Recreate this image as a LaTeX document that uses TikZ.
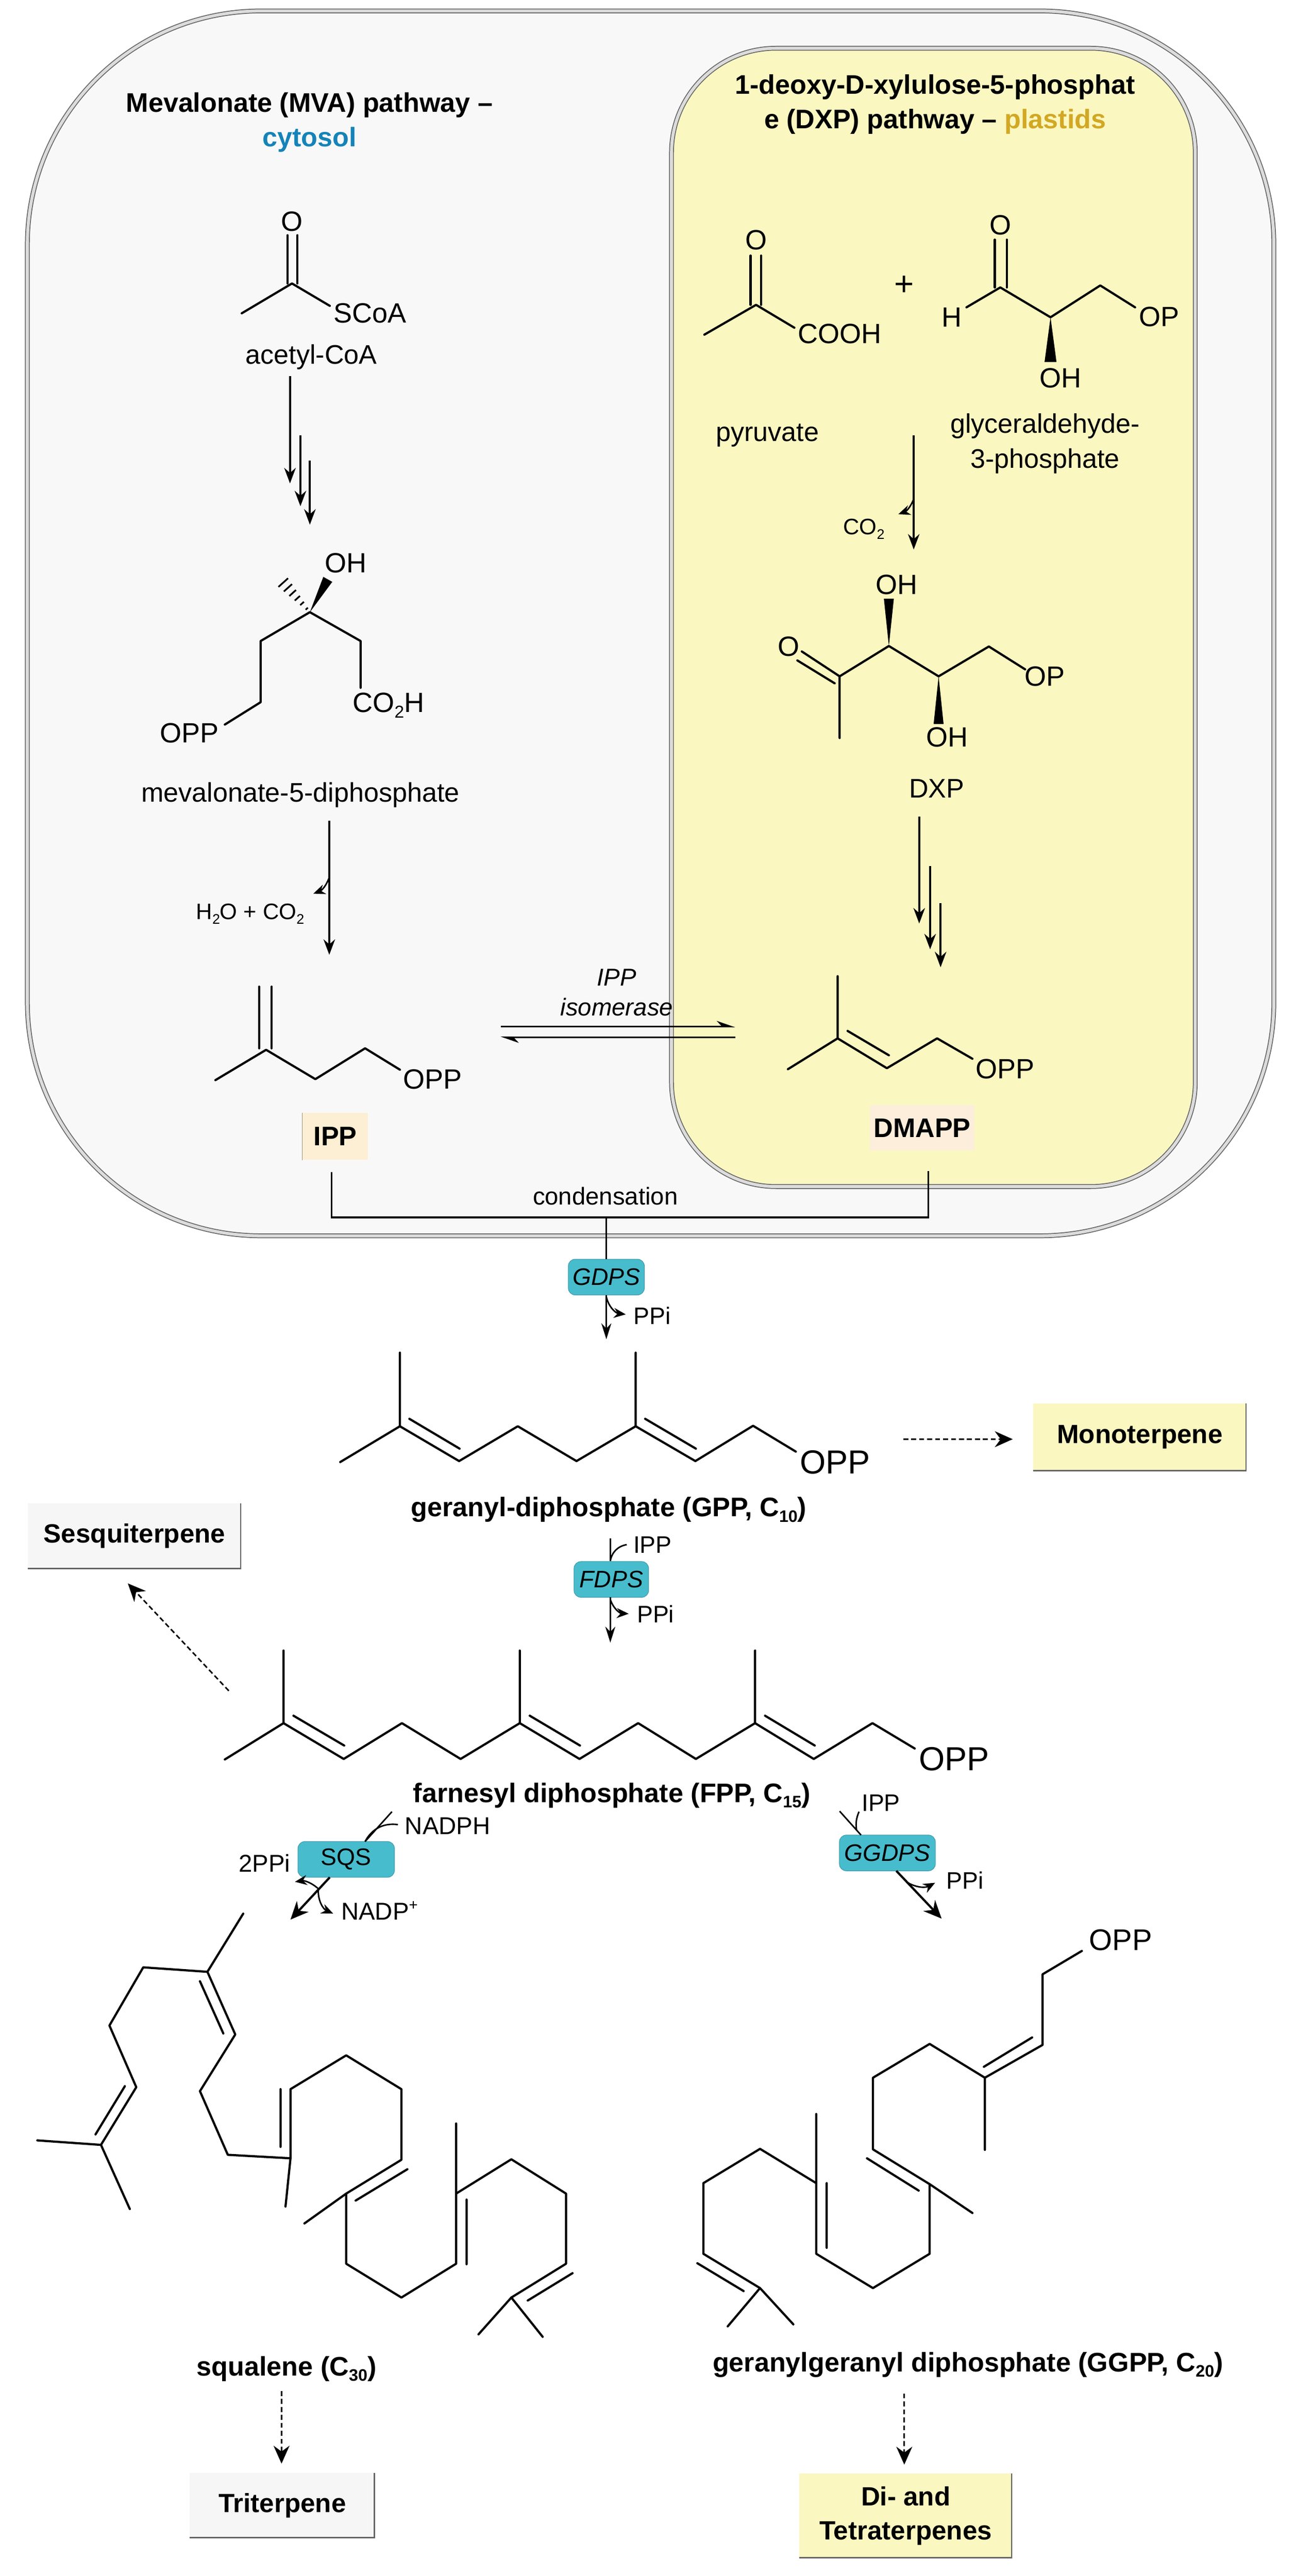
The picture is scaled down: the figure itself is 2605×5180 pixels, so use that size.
\documentclass[tikz,border=0pt]{standalone}
\usepackage{fontspec}
\setmainfont{Liberation Sans}
\usetikzlibrary{arrows.meta,calc}

\definecolor{cytofill}{HTML}{F8F8F8}
\definecolor{plastfill}{HTML}{FBF7C1}
\definecolor{edgedark}{HTML}{666666}
\definecolor{edgelight}{HTML}{DCDCDC}
\definecolor{cytoblue}{HTML}{1583B8}
\definecolor{plastgold}{HTML}{D2A823}
\definecolor{enzteal}{HTML}{47BCCD}
\definecolor{ippfill}{HTML}{FDEFD3}
\definecolor{dmappfill}{HTML}{FCEEDA}
\definecolor{greyfill}{HTML}{F6F6F6}

\newcommand{\chemsub}[1]{\raisebox{-.2em}{\scalebox{.62}{#1}}}
\newcommand{\chemsup}[1]{\raisebox{.42em}{\scalebox{.62}{#1}}}

\begin{document}
\begin{tikzpicture}[x=1pt,y=-1pt,>={Stealth[length=31pt,width=23pt]},
  bond/.style={line width=4.4pt,line cap=round,line join=round},
  wedge/.style={fill=black,draw=none},
  main arrow/.style={->,line width=4.4pt},
  wide arrow/.style={->,line width=4.4pt,>={Stealth[length=36pt,width=32pt]}},
  thin arrow/.style={->,line width=3.6pt,>={Stealth[length=32pt,width=20pt]}},
  side arrow/.style={->,line width=3pt,>={Stealth[length=24pt,width=20pt]}},
  side line/.style={line width=3pt},
  dash arrow/.style={->,line width=3pt,dash pattern=on 10pt off 6pt,>={Stealth[length=36pt,width=32pt]}},
  half left/.style={line width=3.4pt,-{Stealth[left,length=32pt,width=22pt]}},
  joint/.style={line width=3.4pt},
  pathway box/.style={draw=edgedark,line width=1.8pt,double=edgelight,double distance=6pt,inner sep=0pt},
  label/.style={font=\fontsize{54}{70}\selectfont,inner sep=0pt,align=center},
  atom/.style={font=\fontsize{56}{60}\selectfont,inner sep=0pt},
  big atom/.style={font=\fontsize{67}{70}\selectfont,inner sep=0pt},
  small label/.style={font=\fontsize{48}{60}\selectfont,inner sep=0pt,align=center},
  title/.style={font=\fontsize{54}{70}\selectfont\bfseries,inner sep=0pt,align=center},
  enzyme/.style={rectangle,rounded corners=14pt,fill=enzteal,draw=enzteal!80!black,line width=1pt,
    font=\fontsize{48}{60}\selectfont,inner sep=0pt,minimum height=72pt},
  terpene box/.style={rectangle,inner sep=0pt,font=\fontsize{53}{68}\selectfont\bfseries,align=center,
    path picture={\draw[edgedark,line width=5pt]
      (path picture bounding box.north east) -- (path picture bounding box.south east)
      -- (path picture bounding box.south west);}}]

  \useasboundingbox (0,0) rectangle (2605,5180);
  \fill[white] (0,0) rectangle (2605,5180);

  \node[pathway box,fill=cytofill,rounded corners=470pt,minimum width=2506pt,minimum height=2463pt] (cytosol) at (1308,1253.5) {};
  \node[pathway box,fill=plastfill,rounded corners=210pt,minimum width=1053pt,minimum height=2289pt] (plastid) at (1876.5,1241.5) {};

  \node[title] (mvatitle) at (622,246) {Mevalonate (MVA) pathway –\\\textcolor{cytoblue}{cytosol}};
  \node[title] (dxptitle) at (1880,210) {1-deoxy-D-xylulose-5-phosphat\\e (DXP) pathway – \textcolor{plastgold}{plastids}};

  % acetyl-CoA
  \node[atom] (aco) at (587,445) {O};
  \node[atom] (scoa) at (744,630) {SCoA};
  \node[label] (acetyl) at (626,718) {acetyl-CoA};
  \draw[bond] (486,630) -- (587,570) -- (663,615);
  \draw[bond] (578,473) -- (578,570) (598,473) -- (598,570);

  % mevalonate-5-diphosphate
  \node[atom] (mvoh) at (695,1132) {OH};
  \node[atom] (mvopp) at (381,1474) {OPP};
  \node[atom] (mvco) at (781,1418) {CO\chemsub{2}H};
  \node[label] (mvalabel) at (604,1599) {mevalonate-5-diphosphate};
  \coordinate (mvc) at (623,1231);
  \coordinate (mvme) at (560,1161);
  \draw[bond] (452,1457) -- (524,1412) -- (524,1289) -- (mvc) -- (725,1289) -- (725,1383);
  \fill[wedge] (mvc) -- (650,1160) -- (668,1170) -- cycle;
  \foreach \f/\w in {.1/3,.25/5,.4/7,.55/9,.7/11,.85/13,1/15}
    \draw[line width=3.4pt] ($(mvc)!\f!(mvme)!\w pt!90:(mvme)$) -- ($(mvc)!\f!(mvme)!\w pt!-90:(mvme)$);

  % IPP
  \node[atom] (ippopp) at (870,2170) {OPP};
  \draw[bond] (433,2172) -- (535,2111) -- (634,2170) -- (734,2108) -- (804,2151);
  \draw[bond] (521,1984) -- (521,2108) (546,1984) -- (546,2108);
  \node[rectangle,fill=ippfill,inner sep=0pt,minimum width=132pt,minimum height=95pt,
    font=\fontsize{54}{60}\selectfont\bfseries] (ipp) at (674,2285) {IPP};
  \draw[line width=1.6pt,ippfill!60!black] (ipp.north west) -- (ipp.south west);

  % pyruvate and glyceraldehyde-3-phosphate
  \node[atom] (pyo) at (1520,483) {O};
  \node[atom] (cooh) at (1688,671) {COOH};
  \node[label] (pyruvate) at (1543,875) {pyruvate};
  \draw[bond] (1416,673) -- (1520,613) -- (1597,659);
  \draw[bond] (1509,514) -- (1509,613) (1530,514) -- (1530,613);
  \node[font=\fontsize{68}{70}\selectfont,inner sep=0pt] (plus) at (1818,574) {+};
  \node[atom] (gao) at (2011,453) {O};
  \node[atom] (gah) at (1913,638) {H};
  \node[atom] (gaop) at (2330,637) {OP};
  \node[atom] (gaoh) at (2132,760) {OH};
  \node[label] (galabel) at (2101,892) {glyceraldehyde-\\3-phosphate};
  \draw[bond] (1943,618) -- (2011,578) -- (2112,638) -- (2212,574) -- (2282,618);
  \draw[bond] (2000,482) -- (2000,578) (2024,482) -- (2024,578);
  \fill[wedge] (2112,638) -- (2100,728) -- (2124,728) -- cycle;

  % DXP
  \node[atom] (dxo) at (1586,1300) {O};
  \node[atom] (dxoh) at (1803,1176) {OH};
  \node[atom] (dxop) at (2100,1360) {OP};
  \node[atom] (dxohb) at (1904,1482) {OH};
  \node[label] (dxp) at (1883,1586) {DXP};
  \draw[bond] (1688,1484) -- (1688,1360) -- (1787,1299) -- (1887,1360) -- (1988,1300) -- (2061,1346);
  \draw[bond] (1688,1360) -- (1612,1310) (1678,1374) -- (1603,1328);
  \fill[wedge] (1787,1299) -- (1777,1204) -- (1797,1204) -- cycle;
  \fill[wedge] (1887,1360) -- (1877,1456) -- (1897,1456) -- cycle;

  % DMAPP
  \node[atom] (dmopp) at (2021,2150) {OPP};
  \draw[bond] (1584,2150) -- (1684,2088) -- (1783,2148) -- (1884,2088) -- (1955,2129);
  \draw[bond] (1684,1963) -- (1684,2088) (1704,2073) -- (1787,2122);
  \node[rectangle,fill=dmappfill,inner sep=0pt,minimum width=211pt,minimum height=91pt,
    font=\fontsize{54}{60}\selectfont\bfseries] (dmapp) at (1854,2268) {DMAPP};

  % pathway arrows
  \foreach \name/\x/\ya/\yb in {aca/583/756/972,acb/604/875/1018,acc/623/926/1055,
      dxa/1848/1642/1857,dxb/1870/1741/1909,dxc/1891/1816/1945,
      mvd/662/1650/1920,gap/1837/875/1105} {
    \coordinate (\name from) at (\x,\ya);
    \coordinate (\name to) at (\x,\yb);
    \path[main arrow] (\name from) edge (\name to);
  }
  \coordinate (mvdside) at (662,1764);
  \coordinate (mvdout) at (630,1797);
  \coordinate (gapside) at (1837,1003);
  \coordinate (gapout) at (1806,1034);
  \path[side arrow] (mvdside) edge [bend left=25] (mvdout)
    (gapside) edge [bend left=25] (gapout);
  \node[small label,font=\fontsize{45}{50}\selectfont] (waterco) at (503,1838) {H\chemsub{2}O + CO\chemsub{2}};
  \node[small label,font=\fontsize{45}{50}\selectfont] (gapco) at (1737,1064) {CO\chemsub{2}};

  % isomerase
  \coordinate (isoa) at (1007,2064);
  \coordinate (isob) at (1478,2064);
  \coordinate (isoc) at (1478,2086);
  \coordinate (isod) at (1006,2086);
  \path[half left] (isoa) edge (isob) (isoc) edge (isod);
  \node[small label,font=\fontsize{49}{60}\selectfont\itshape] (isomerase) at (1240,1996) {IPP\\isomerase};

  % condensation
  \coordinate (ippfoot) at (667,2357);
  \coordinate (ippbend) at (667,2448);
  \coordinate (dmbend) at (1866,2448);
  \coordinate (dmfoot) at (1866,2355);
  \coordinate (condjoin) at (1219,2448);
  \node[small label,font=\fontsize{49}{60}\selectfont] (condensation) at (1217,2405) {condensation};
  \draw[joint] (ippfoot) -- (ippbend) -- (dmbend) -- (dmfoot);
  \node[enzyme,minimum width=153pt,font=\fontsize{48}{60}\selectfont\itshape] (gdps) at (1219,2568) {GDPS};
  \draw[joint] (condjoin) -- (gdps.north);
  \coordinate (gdpsto) at (1219,2693);
  \coordinate (gdpsside) at (1219,2608);
  \coordinate (gdpsout) at (1258,2643);
  \path[thin arrow] (gdps.south) edge (gdpsto);
  \path[side arrow] (gdpsside) edge [bend right=35] (gdpsout);
  \node[small label] (gdpsppi) at (1311,2646) {PPi};

  % GPP
  \node[big atom] (gppopp) at (1679,2940) {OPP};
  \draw[bond] (684,2940) -- (804,2868) -- (923,2938) -- (1041,2868) -- (1159,2938) -- (1278,2868) -- (1398,2938) -- (1514,2867) -- (1600,2919);
  \draw[bond] (804,2720) -- (804,2868) (823,2853) -- (924,2913)
    (1278,2720) -- (1278,2868) (1297,2853) -- (1399,2913);
  \node[title] (gpplabel) at (1224,3036) {geranyl-diphosphate (GPP, C\chemsub{10})};

  \node[terpene box,fill=plastfill,minimum width=429pt,minimum height=136pt] (mono) at (2291.5,2890) {Monoterpene};
  \coordinate (gppout) at (1816,2894);
  \coordinate (monoin) at (2036,2894);
  \path[dash arrow] (gppout) edge (monoin);

  % FDPS
  \node[enzyme,minimum width=150pt,font=\fontsize{48}{60}\selectfont\itshape] (fdps) at (1229,3176) {FDPS};
  \coordinate (fdpsin) at (1227,3093);
  \coordinate (fdpsipp) at (1260,3106);
  \coordinate (fdpstop) at (1227,3139);
  \coordinate (fdpsfoot) at (1227,3212);
  \coordinate (fdpsto) at (1227,3303);
  \coordinate (fdpsside) at (1227,3216);
  \coordinate (fdpsout) at (1264,3245);
  \draw[side line] (fdpsin) -- (fdpstop);
  \draw[side line] (fdpsipp) to [bend right=35] (fdpstop);
  \path[thin arrow] (fdpsfoot) edge (fdpsto);
  \path[side arrow] (fdpsside) edge [bend right=35] (fdpsout);
  \node[small label] (fdpsipplabel) at (1312,3106) {IPP};
  \node[small label] (fdpsppi) at (1318,3245) {PPi};

  % FPP
  \node[big atom] (fppopp) at (1918,3537) {OPP};
  \draw[bond] (452,3538) -- (570,3465) -- (691,3537) -- (808,3465) -- (926,3537) -- (1045,3465) -- (1165,3537) -- (1283,3465) -- (1399,3537) -- (1518,3465) -- (1636,3537) -- (1754,3465) -- (1839,3516);
  \draw[bond] (570,3319) -- (570,3465) (590,3450) -- (692,3510)
    (1045,3319) -- (1045,3465) (1065,3450) -- (1166,3510)
    (1518,3319) -- (1518,3465) (1538,3450) -- (1638,3510);
  \node[title] (fpplabel) at (1230,3610) {farnesyl diphosphate (FPP, C\chemsub{15})};

  \node[terpene box,fill=greyfill,minimum width=429pt,minimum height=132pt] (sesqui) at (270.5,3089) {Sesquiterpene};
  \coordinate (fppout) at (460,3400);
  \coordinate (sesquiin) at (257,3184);
  \path[dash arrow] (fppout) edge (sesquiin);

  % SQS
  \node[enzyme,minimum width=194pt] (sqs) at (696,3739) {SQS};
  \coordinate (sqsin) at (788,3643);
  \coordinate (sqstop) at (734,3703);
  \coordinate (sqsnad) at (800,3669);
  \coordinate (sqsfoot) at (663,3775);
  \coordinate (sqsto) at (584,3860);
  \coordinate (sqsside) at (640,3798);
  \coordinate (sqsppi) at (593,3784);
  \coordinate (sqsnadp) at (670,3848);
  \draw[side line] (sqsin) -- (sqstop);
  \draw[side line] (sqsnad) to [bend right=35] (sqstop);
  \path[wide arrow] (sqsfoot) edge (sqsto);
  \path[side arrow] (sqsside) edge [bend right=25] (sqsppi)
    (sqsside) edge [bend right=35] (sqsnadp);
  \node[small label,font=\fontsize{49}{60}\selectfont] (nadph) at (900,3672) {NADPH};
  \node[small label,font=\fontsize{49}{60}\selectfont] (twoppi) at (532,3746) {2PPi};
  \node[small label,font=\fontsize{49}{60}\selectfont] (nadp) at (763,3842) {NADP\chemsup{+}};

  % GGDPS
  \node[enzyme,minimum width=193pt,font=\fontsize{48}{60}\selectfont\itshape] (ggdps) at (1784,3726) {GGDPS};
  \coordinate (ggin) at (1688,3642);
  \coordinate (ggtop) at (1731,3690);
  \coordinate (ggipp) at (1727,3643);
  \coordinate (ggfoot) at (1802,3762);
  \coordinate (ggto) at (1893,3858);
  \coordinate (ggside) at (1822,3784);
  \coordinate (ggout) at (1880,3786);
  \coordinate (ggmerge) at (1722,3680);
  \draw[side line] (ggin) -- (ggtop);
  \draw[side line] (ggipp) to [bend right=15] (ggmerge);
  \path[wide arrow] (ggfoot) edge (ggto);
  \path[side arrow] (ggside) edge [bend right=30] (ggout);
  \node[small label] (ggipplabel) at (1771,3626) {IPP};
  \node[small label] (ggppi) at (1940,3781) {PPi};

  % squalene
  \draw[bond] (75,4304) -- (203,4313) -- (274,4197) -- (220,4073) -- (288,3956) -- (417,3965) -- (473,4091) -- (402,4205) -- (458,4333) -- (584,4340) -- (584,4201) -- (696,4133) -- (807,4201) -- (807,4343) -- (696,4411) -- (696,4552) -- (807,4620) -- (917,4552) -- (917,4411) -- (1028,4342) -- (1138,4411) -- (1138,4552) -- (1028,4620);
  \draw[bond] (203,4313) -- (261,4442) (192,4292) -- (251,4195)
    (489,3848) -- (417,3965) (402,3984) -- (449,4089)
    (584,4340) -- (574,4437) (564,4201) -- (564,4317)
    (696,4411) -- (612,4471) (715,4425) -- (819,4362)
    (917,4270) -- (917,4411) (938,4423) -- (938,4553)
    (1061,4626) -- (1151,4571) (962,4694) -- (1028,4620) -- (1091,4699);
  \node[title] (sqlabel) at (576,4763) {squalene (C\chemsub{30})};
  \node[terpene box,fill=greyfill,minimum width=373pt,minimum height=131pt] (triterpene) at (567.5,5038.5) {Triterpene};
  \coordinate (sqfrom) at (566,4808);
  \coordinate (sqto) at (566,4954);
  \path[dash arrow] (sqfrom) edge (sqto);

  % GGPP
  \node[big atom,font=\fontsize{60}{70}\selectfont] (ggopp) at (2253,3901) {OPP};
  \draw[bond] (2175,3923) -- (2096,3970) -- (2096,4112) -- (1980,4178) -- (1869,4110) -- (1755,4178) -- (1755,4322) -- (1869,4392) -- (1869,4532) -- (1755,4601) -- (1641,4532) -- (1641,4390) -- (1528,4321) -- (1414,4390) -- (1414,4532) -- (1528,4601);
  \draw[bond] (1978,4156) -- (2075,4097) (1980,4178) -- (1980,4323)
    (1743,4340) -- (1847,4405) (1869,4392) -- (1955,4450)
    (1662,4390) -- (1662,4520) (1641,4251) -- (1641,4390)
    (1402,4551) -- (1495,4607) (1463,4678) -- (1528,4601) -- (1595,4674);
  \node[title] (gglabel) at (1946,4755) {geranylgeranyl diphosphate (GGPP, C\chemsub{20})};
  \node[terpene box,fill=plastfill,minimum width=428pt,minimum height=170pt] (diterpene) at (1821,5059) {Di- and\\Tetraterpenes};
  \coordinate (ggfrom) at (1818,4813);
  \coordinate (gginto) at (1818,4956);
  \path[dash arrow] (ggfrom) edge (gginto);
\end{tikzpicture}
\end{document}
